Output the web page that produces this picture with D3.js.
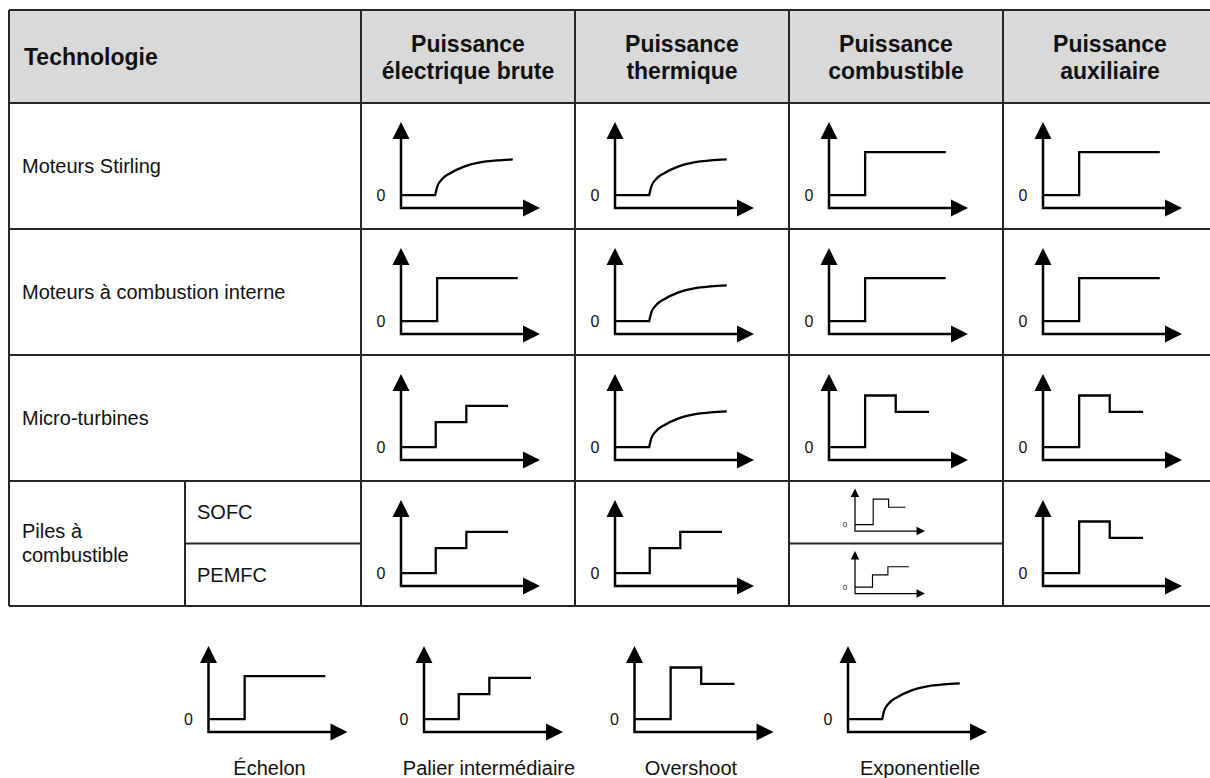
<!DOCTYPE html>
<html>
<head>
<meta charset="utf-8">
<script src="https://cdn.jsdelivr.net/npm/d3@7"></script>
<style>
  html, body { margin: 0; padding: 0; background: #fff; }
  svg { display: block; }
  text { font-family: "Liberation Sans", Arial, sans-serif; fill: #111; }
</style>
</head>
<body>
<svg id="chart" width="1210" height="778"></svg>
<script>
// ---------------- DATA ----------------
const headerTitle = "Technologie";
const columnHeaders = [
  ["Puissance", "électrique brute"],
  ["Puissance", "thermique"],
  ["Puissance", "combustible"],
  ["Puissance", "auxiliaire"]
];
const technologies = ["Moteurs Stirling", "Moteurs à combustion interne", "Micro-turbines", ["Piles à", "combustible"]];
const fuelCellTypes = ["SOFC", "PEMFC"];
const legendNames = ["Échelon", "Palier intermédiaire", "Overshoot", "Exponentielle"];
const zeroLabel = "0";

// response profiles: time (0..10 = axis arrow tip) and power (0..10 = axis arrow tip)
const echelonTime  = [0, 2.6, 2.6, 8.4];
const echelonPower = [1.5, 1.5, 6.5, 6.5];
const palierTime   = [0, 2.5, 2.5, 4.7, 4.7, 7.7];
const palierPower  = [1.5, 1.5, 4.4, 4.4, 6.3, 6.3];
const overshootTime  = [0, 2.6, 2.6, 4.8, 4.8, 7.2];
const overshootPower = [1.5, 1.5, 7.5, 7.5, 5.6, 5.6];
const expoTime  = [0, 2.46, 2.62, 2.95, 3.54, 4.49, 5.69, 6.89, 8.04];
const expoPower = [1.5, 1.5, 2.55, 3.35, 4.05, 4.78, 5.30, 5.53, 5.65];

// which profile each technology shows for each power (rows x columns)
const cellProfiles = [
  ["Exponentielle", "Exponentielle", "Échelon", "Échelon"],
  ["Échelon", "Exponentielle", "Échelon", "Échelon"],
  ["Palier intermédiaire", "Exponentielle", "Overshoot", "Overshoot"],
  ["Palier intermédiaire", "Palier intermédiaire", ["Overshoot", "Palier intermédiaire"], "Overshoot"]
];

const profiles = {
  "Échelon": d3.zip(echelonTime, echelonPower),
  "Palier intermédiaire": d3.zip(palierTime, palierPower),
  "Overshoot": d3.zip(overshootTime, overshootPower),
  "Exponentielle": d3.zip(expoTime, expoPower)
};

// ---------------- LAYOUT ----------------
const svg = d3.select("#chart");
const colX = [9, 185, 361, 575, 789, 1003, 1217];   // table vertical lines
const rowY = [10, 103, 229, 355, 481, 606];        // table horizontal lines
const subRowY = 543.5;
const headerFill = "#d9d9d9";
const borderColor = "#262626";

// header background
svg.append("rect")
  .attr("x", colX[0]).attr("y", rowY[0])
  .attr("width", colX[6] - colX[0]).attr("height", rowY[1] - rowY[0])
  .attr("fill", headerFill);

// grid lines
const gridG = svg.append("g").attr("stroke", borderColor).attr("stroke-width", 2).attr("fill", "none");
const hLines = rowY.map(y => ({x1: colX[0], x2: colX[6], y1: y, y2: y}));
hLines.push({x1: colX[1], x2: colX[2], y1: subRowY, y2: subRowY});
hLines.push({x1: colX[4], x2: colX[5], y1: subRowY, y2: subRowY});
const vLines = [
  {x1: colX[0], x2: colX[0], y1: rowY[0], y2: rowY[5]},
  {x1: colX[1], x2: colX[1], y1: rowY[4], y2: rowY[5]},
  ...[2, 3, 4, 5, 6].map(i => ({x1: colX[i], x2: colX[i], y1: rowY[0], y2: rowY[5]}))
];
gridG.selectAll("line").data(hLines.concat(vLines)).join("line")
  .attr("x1", d => d.x1).attr("x2", d => d.x2).attr("y1", d => d.y1).attr("y2", d => d.y2);

// header texts
svg.append("text").attr("x", 24).attr("y", 65)
  .attr("font-size", 23).attr("font-weight", "bold").text(headerTitle);
columnHeaders.forEach((lines, i) => {
  const cx = (colX[i + 2] + colX[i + 3]) / 2;
  const t = svg.append("text").attr("text-anchor", "middle")
    .attr("font-size", 23).attr("font-weight", "bold");
  lines.forEach((ln, j) => t.append("tspan").attr("x", cx).attr("y", 52 + j * 26.5).text(ln));
});

// technology labels
technologies.forEach((name, r) => {
  const mid = (rowY[r + 1] + rowY[r + 2]) / 2;
  const t = svg.append("text").attr("font-size", 20);
  if (Array.isArray(name)) {
    t.append("tspan").attr("x", 22).attr("y", mid - 6).text(name[0]);
    t.append("tspan").attr("x", 22).attr("y", mid + 18).text(name[1]);
  } else {
    t.attr("x", 22).attr("y", mid + 7).text(name);
  }
});
fuelCellTypes.forEach((name, k) => {
  const top = k === 0 ? rowY[4] : subRowY;
  const bot = k === 0 ? subRowY : rowY[5];
  svg.append("text").attr("x", 197).attr("y", (top + bot) / 2 + 7)
    .attr("font-size", 20).text(name);
});

// ---------------- GLYPH DRAWING ----------------
function drawGlyph(g, ox, oy, w, h, profileName, sc) {
  const x = d3.scaleLinear().domain([0, 10]).range([ox, ox + w]);
  const y = d3.scaleLinear().domain([0, 10]).range([oy, oy - h]);
  const aLen = 17 * sc, aHalf = 8.5 * sc;
  const axisW = 2.5 * sc, lineW = 2.3 * sc;
  // axes
  g.append("path")
    .attr("d", d3.line()([[x(0), y(10) + aLen - 1], [x(0), y(0)], [x(10) - aLen + 1, y(0)]]))
    .attr("fill", "none").attr("stroke", "#000").attr("stroke-width", axisW)
    .attr("stroke-linejoin", "miter");
  // arrow heads
  g.append("path")
    .attr("d", d3.line()([[x(0), y(10)], [x(0) - aHalf, y(10) + aLen], [x(0) + aHalf, y(10) + aLen]]) + "Z")
    .attr("fill", "#000");
  g.append("path")
    .attr("d", d3.line()([[x(10), y(0)], [x(10) - aLen, y(0) - aHalf], [x(10) - aLen, y(0) + aHalf]]) + "Z")
    .attr("fill", "#000");
  // profile
  const pts = profiles[profileName];
  const lin = d3.line().x(d => x(d[0])).y(d => y(d[1]));
  let d;
  if (profileName === "Exponentielle") {
    // flat part then a smooth saturating rise starting at the step time
    const curve = d3.line().x(p => x(p[0])).y(p => y(p[1])).curve(d3.curveMonotoneX);
    d = lin(pts.slice(0, 2)) + curve(pts.slice(1)).replace(/^M[^LC]*/, "");
  } else {
    d = lin(pts);
  }
  g.append("path").attr("d", d)
    .attr("fill", "none").attr("stroke", "#000").attr("stroke-width", lineW)
    .attr("stroke-linejoin", "miter");
  // zero label
  g.append("text").attr("x", x(0) - 20 * sc).attr("y", y(pts[0][1]) + 5.7 * sc)
    .attr("text-anchor", "middle").attr("font-size", 16 * sc).text(zeroLabel);
}

const glyphG = svg.append("g");
const W = 139, H = 86;
cellProfiles.forEach((row, r) => {
  row.forEach((p, c) => {
    const cx0 = colX[c + 2], cy0 = rowY[r + 1];
    if (Array.isArray(p)) {
      drawGlyph(glyphG.append("g"), cx0 + 66, cy0 + 50, 70, 42.5, p[0], 0.5);
      drawGlyph(glyphG.append("g"), cx0 + 66, subRowY + 50, 70, 42.5, p[1], 0.5);
    } else {
      drawGlyph(glyphG.append("g"), cx0 + 40, cy0 + 105, W, H, p, 1);
    }
  });
});

// ---------------- LEGEND ----------------
const legendOriginX = [208.5, 424, 634.5, 848];
const legendLabelDx = [61, 65, 56.5, 72];
const legendG = svg.append("g");
legendNames.forEach((name, i) => {
  drawGlyph(legendG.append("g"), legendOriginX[i], 732, W, H, name, 1);
  legendG.append("text").attr("x", legendOriginX[i] + legendLabelDx[i]).attr("y", 775)
    .attr("text-anchor", "middle").attr("font-size", 20).text(name);
});
</script>
</body>
</html>
